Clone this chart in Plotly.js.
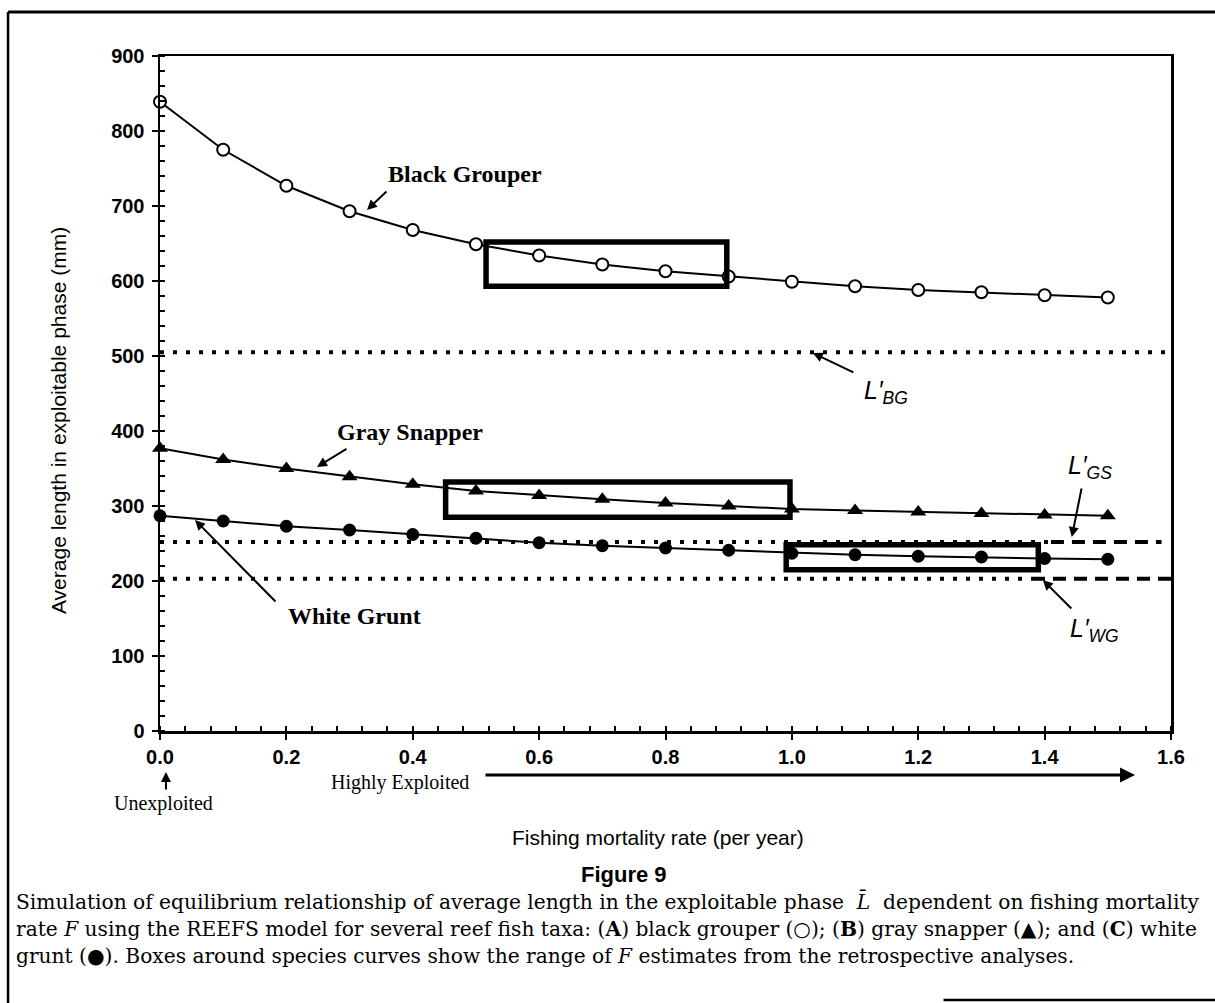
<!DOCTYPE html>
<html>
<head>
<meta charset="utf-8">
<script src="https://cdn.plot.ly/plotly-3.0.1.min.js"></script>
<style>
  html, body { margin: 0; padding: 0; background: #fff; }
  #chart { width: 1215px; height: 1003px; }
</style>
</head>
<body>
<div id="chart"></div>
<script>
// ---- data ----
const fishingMortality = [0.0, 0.1, 0.2, 0.3, 0.4, 0.5, 0.6, 0.7, 0.8, 0.9, 1.0, 1.1, 1.2, 1.3, 1.4, 1.5];
const blackGrouper = [839, 775, 727, 693, 668, 649, 634, 622, 613, 606, 599, 593, 588, 585, 581, 578];
const graySnapper  = [377, 362, 350, 339, 329, 320, 314, 309, 304, 300, 296, 294, 292, 290, 288, 287];
const whiteGrunt   = [287, 280, 273, 268, 262, 257, 251, 247, 244, 241, 237, 235, 233, 232, 230, 229];

const refNames  = ["BG", "GS", "WG"];
const refValues = [505, 252, 203];

// boxes: range of F estimates from retrospective analyses
const boxNames = ["Black Grouper", "Gray Snapper", "White Grunt"];
const boxF0 = [0.516, 0.452, 0.991];
const boxF1 = [0.897, 0.997, 1.390];
const boxL0 = [593, 285, 215];
const boxL1 = [652, 332, 248.5];

const xRange = [0, 1.6];
const yRange = [0, 900];

// ---- styling ----
const sans = "Liberation Sans, Arial, Helvetica, sans-serif";
const serif = "Liberation Serif, Times New Roman, serif";
const capSerif = "DejaVu Serif, serif";
const black = "#000";

const traces = [];

// reference lines L'
const dotDash = "4px,9px";
const longDash = "13px,8px";
traces.push({x: [xRange[0], xRange[1]], y: [refValues[0], refValues[0]], mode: "lines",
  line: {color: black, width: 4, dash: dotDash}, hoverinfo: "skip", showlegend: false});
traces.push({x: [xRange[0], 1.41], y: [refValues[1], refValues[1]], mode: "lines",
  line: {color: black, width: 4, dash: dotDash}, hoverinfo: "skip", showlegend: false});
traces.push({x: [1.41, 1.585], y: [refValues[1], refValues[1]], mode: "lines",
  line: {color: black, width: 4, dash: longDash}, hoverinfo: "skip", showlegend: false});
traces.push({x: [xRange[0], 1.38], y: [refValues[2], refValues[2]], mode: "lines",
  line: {color: black, width: 4, dash: dotDash}, hoverinfo: "skip", showlegend: false});
traces.push({x: [1.38, xRange[1]], y: [refValues[2], refValues[2]], mode: "lines",
  line: {color: black, width: 4, dash: longDash}, hoverinfo: "skip", showlegend: false});

// species curves
traces.push({x: fishingMortality, y: blackGrouper, name: "Black Grouper", mode: "lines+markers",
  line: {color: black, width: 2},
  marker: {symbol: "circle", size: 12, color: "#fff", line: {color: black, width: 2}},
  cliponaxis: false, showlegend: false});
traces.push({x: fishingMortality, y: graySnapper, name: "Gray Snapper", mode: "lines+markers",
  line: {color: black, width: 2},
  marker: {symbol: "triangle-up", size: 14, color: black, line: {width: 0}},
  cliponaxis: false, showlegend: false});
traces.push({x: fishingMortality, y: whiteGrunt, name: "White Grunt", mode: "lines+markers",
  line: {color: black, width: 2},
  marker: {symbol: "circle", size: 13, color: black, line: {width: 0}},
  cliponaxis: false, showlegend: false});

// shapes: boxes + page frame
const shapes = boxNames.map((n, i) => ({
  type: "rect", xref: "x", yref: "y",
  x0: boxF0[i], x1: boxF1[i], y0: boxL0[i], y1: boxL1[i],
  line: {color: black, width: 5.5}, fillcolor: "rgba(0,0,0,0)", layer: "above"
}));
shapes.push({type: "line", xref: "paper", yref: "paper", x0: -0.1503, x1: -0.1503, y0: 1.0652, y1: -0.41,
  line: {color: black, width: 2.5}});
shapes.push({type: "line", xref: "paper", yref: "paper", x0: -0.1503, x1: 1.05, y0: 1.0652, y1: 1.0652,
  line: {color: black, width: 3}});
shapes.push({type: "line", xref: "paper", yref: "paper", x0: 0.775, x1: 1.05, y0: -0.3985, y1: -0.3985,
  line: {color: black, width: 2.5}});

// annotations
const ann = [];
function arrow(xh, yh, xt, yt, w) {
  ann.push({x: xh, y: yh, ax: xt, ay: yt, xref: "x", yref: "y", axref: "x", ayref: "y",
    text: "", showarrow: true, arrowhead: 2, arrowsize: 1, arrowwidth: w || 2,
    arrowcolor: black, standoff: 0, startstandoff: 0});
}
function label(x, y, text, font, xref, yref, extra) {
  ann.push(Object.assign({x: x, y: y, xref: xref || "x", yref: yref || "y", text: text,
    showarrow: false, font: font, xanchor: "center", yanchor: "middle"}, extra || {}));
}
const speciesFont = {family: serif, size: 24, color: black, weight: "bold"};
label(0.482, 743, boxNames[0], speciesFont);
label(0.396, 399, boxNames[1], speciesFont);
label(0.308, 153, boxNames[2], speciesFont);
arrow(0.3275, 694.7, 0.3608, 721.3);
arrow(0.2484, 352, 0.2975, 377.3);
arrow(0.0554, 281.3, 0.1851, 170.7);

const lFont = {family: sans, size: 25, color: black};
label(1.149, 452, "<i>L′<sub>" + refNames[0] + "</sub></i>", lFont);
label(1.472, 352, "<i>L′<sub>" + refNames[1] + "</sub></i>", lFont);
label(1.479, 135, "<i>L′<sub>" + refNames[2] + "</sub></i>", lFont);
arrow(1.0332, 504, 1.0997, 477.3);
arrow(1.443, 258.7, 1.4589, 325.3);
arrow(1.3972, 201.3, 1.4446, 161.3);

// below-axis notes
const noteFont = {family: serif, size: 20, color: black};
label(0.003, -0.108, "Unexploited", noteFont, "paper", "paper");
ann.push({x: 0.0059, y: -0.0607, xref: "paper", yref: "paper", ax: 0, ay: 19,
  text: "", showarrow: true, arrowhead: 2, arrowsize: 1, arrowwidth: 2, arrowcolor: black, standoff: 0});
label(0.2374, -0.077, "Highly Exploited", noteFont, "paper", "paper");
ann.push({x: 0.9644, y: -0.0652, xref: "paper", yref: "paper", ax: -651, ay: 0,
  text: "", showarrow: true, arrowhead: 2, arrowsize: 1, arrowwidth: 3, arrowcolor: black, standoff: 0});

// axis titles
label(0.4926, -0.1585, "Fishing mortality rate (per year)", {family: sans, size: 21, color: black}, "paper", "paper");
label(-0.1009, 0.4607, "Average length in exploitable phase (mm)", {family: sans, size: 21, color: black}, "paper", "paper", {textangle: -90});

// figure caption
label(0.459, -0.2119, "Figure 9", {family: sans, size: 22, color: black, weight: "bold"}, "paper", "paper");
const capFont = {family: capSerif, size: 20.2, color: black};
const capLines = [
  "Simulation of equilibrium relationship of average length in the exploitable phase  <i>L̄</i>  dependent on fishing mortality",
  "rate <i>F</i> using the REEFS model for several reef fish taxa: (<b>A</b>) black grouper (○); (<b>B</b>) gray snapper (▲); and (<b>C</b>) white",
  "grunt (●). Boxes around species curves show the range of <i>F</i> estimates from the retrospective analyses."
];
const capY = [-0.2533, -0.2933, -0.3333];
capLines.forEach((t, i) => label(-0.1444, capY[i], t, capFont, "paper", "paper", {xanchor: "left", align: "left"}));

const layout = {
  width: 1215, height: 1003,
  margin: {l: 160, r: 44, t: 56, b: 272, pad: 0},
  paper_bgcolor: "#fff", plot_bgcolor: "#fff",
  showlegend: false,
  xaxis: {
    range: xRange, tickmode: "linear", tick0: 0, dtick: 0.2, tickformat: ".1f",
    showline: true, linecolor: black, linewidth: 2.5, mirror: true,
    ticks: "outside", ticklen: 6, tickwidth: 2, tickcolor: black,
    minor: {dtick: 0.04, ticks: "inside", ticklen: 5, tickwidth: 2, tickcolor: black, showgrid: false},
    showgrid: false, zeroline: false, ticklabelstandoff: 0,
    tickfont: {family: sans, size: 20, color: black, weight: "bold"}
  },
  yaxis: {
    range: yRange, tickmode: "linear", tick0: 0, dtick: 100,
    showline: true, linecolor: black, linewidth: 2.5, mirror: true,
    ticks: "outside", ticklen: 6, tickwidth: 2, tickcolor: black,
    minor: {dtick: 20, ticks: "inside", ticklen: 5, tickwidth: 2, tickcolor: black, showgrid: false},
    showgrid: false, zeroline: false, ticklabelstandoff: 3,
    tickfont: {family: sans, size: 20, color: black, weight: "bold"}
  },
  shapes: shapes,
  annotations: ann
};

Plotly.newPlot("chart", traces, layout, {staticPlot: true, displayModeBar: false});
</script>
</body>
</html>
